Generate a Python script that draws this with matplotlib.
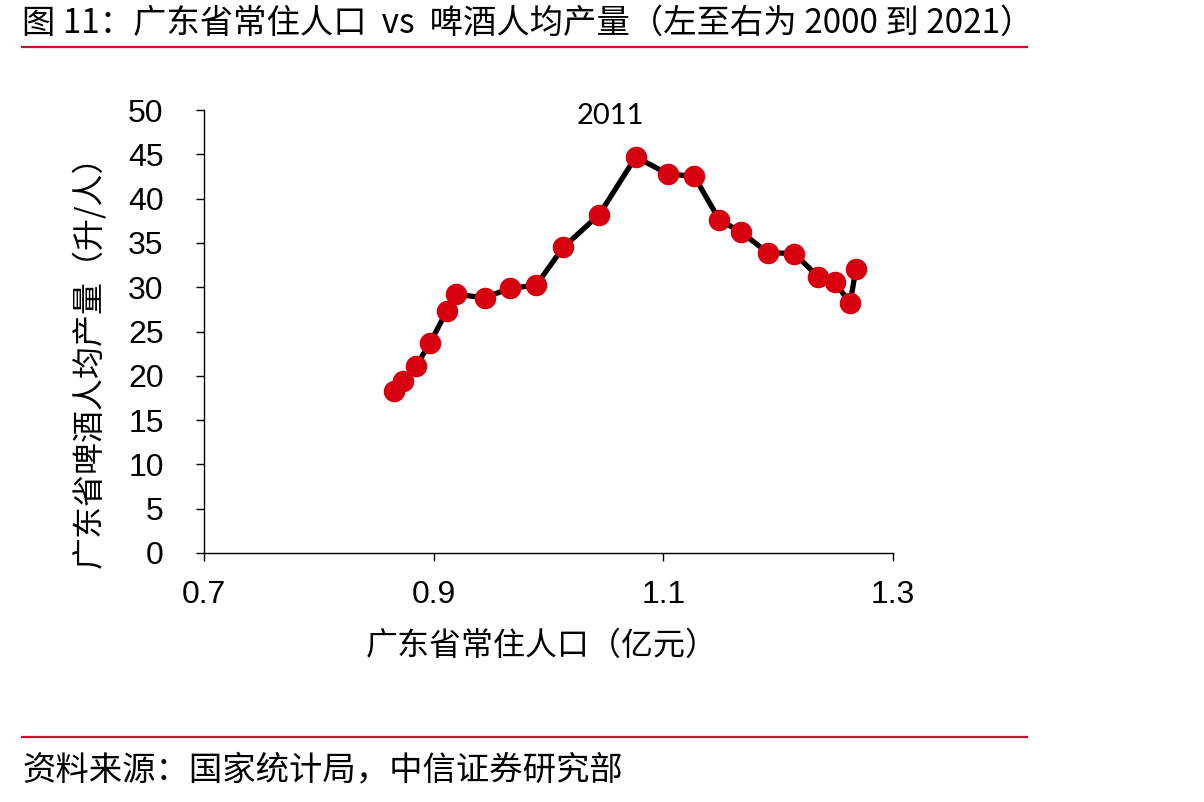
import matplotlib
matplotlib.use("Agg")
import matplotlib.pyplot as plt
from matplotlib.lines import Line2D

plt.rcParams['font.family'] = ['Noto Sans CJK SC', 'DejaVu Sans']

# Data (2000 -> 2021)
years = list(range(2000, 2022))
population = [0.8655, 0.8736, 0.8846, 0.8968, 0.9114, 0.9197, 0.9447, 0.9665, 0.9891,
              1.0129, 1.0442, 1.0760, 1.1038, 1.1270, 1.1488, 1.1679, 1.1909, 1.2141,
              1.2347, 1.2492, 1.2626, 1.2678]
beer_per_capita = [18.25, 19.45, 21.1, 23.7, 27.3, 29.2, 28.8, 29.9, 30.2,
                   34.5, 38.2, 44.7, 42.8, 42.5, 37.6, 36.2, 33.9, 33.8,
                   31.2, 30.6, 28.2, 32.1]
x_ticks = [0.7, 0.9, 1.1, 1.3]
y_ticks = list(range(0, 51, 5))

title = "图 11：广东省常住人口  vs  啤酒人均产量（左至右为 2000 到 2021）"
source = "资料来源：国家统计局，中信证券研究部"
xlabel = "广东省常住人口（亿元）"
ylabel = "广东省啤酒人均产量（升/人）"
annot_label = "2011"

W, H = 1204, 802
fig = plt.figure(figsize=(W / 100, H / 100), dpi=100)
ax = fig.add_axes([204 / W, 1 - 553 / H, (893 - 204) / W, (553 - 110) / H])

ax.plot(population, beer_per_capita, color='black', lw=3.8, zorder=2)
ax.plot(population, beer_per_capita, ls='none', marker='o', ms=14.5,
        mfc='#D7000F', mec='#D7000F', zorder=3)

ax.set_xlim(0.7, 1.3)
ax.set_ylim(0, 50)
ax.set_xticks(x_ticks)
ax.set_xticklabels([f"{v:.1f}" for v in x_ticks])
ax.set_yticks(y_ticks)
ax.set_yticklabels([str(v) for v in y_ticks])
for lab in ax.get_xticklabels() + ax.get_yticklabels():
    lab.set_family(['Liberation Sans', 'DejaVu Sans'])
    lab.set_fontsize(23)
ax.tick_params(axis='both', direction='out', length=6, width=1.0, color='black')
ax.tick_params(axis='x', pad=13.5)
ax.tick_params(axis='y', pad=23)
for s in ['top', 'right']:
    ax.spines[s].set_visible(False)
for s in ['left', 'bottom']:
    ax.spines[s].set_linewidth(1.0)

ax.set_xlabel(xlabel, fontsize=23, va='center', ha='center')
ax.xaxis.set_label_coords((542 - 204) / 689, -(646 - 553) / 443)
ax.set_ylabel(ylabel, fontsize=23, va='center', ha='center')
ax.yaxis.set_label_coords((88 - 204) / 689, (553 - 354) / 443)

i2011 = years.index(2011)
ax.annotate(annot_label, xy=(population[i2011], beer_per_capita[i2011]),
            xytext=(-18.5, 29.3), textcoords='offset points', ha='center', va='center',
            fontsize=21, family=['Lato', 'DejaVu Sans'])

fig.text(22 / W, 1 - 23 / H, title, fontsize=24, ha='left', va='center')
fig.add_artist(Line2D([22 / W, 1027 / W], [1 - 47 / H, 1 - 47 / H], color='#C8102E', lw=1.6))
fig.add_artist(Line2D([22 / W, 1027 / W], [1 - 737 / H, 1 - 737 / H], color='#C8102E', lw=1.6))
fig.text(22 / W, 1 - 770 / H, source, fontsize=24, ha='left', va='center')

fig.savefig("out.png", dpi=100)
